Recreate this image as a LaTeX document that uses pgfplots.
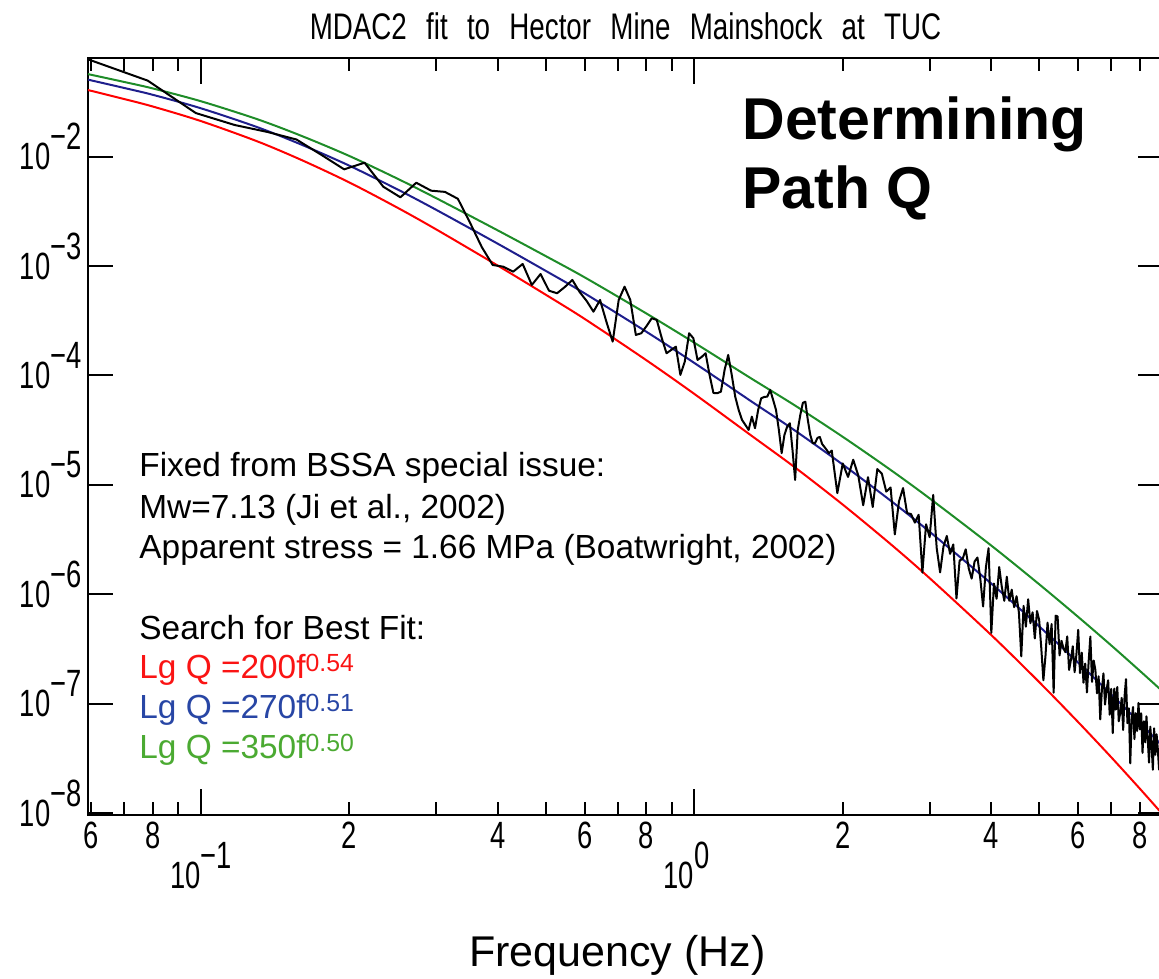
\documentclass[border=0pt]{standalone}
\usepackage{fontspec}
\setmainfont{Liberation Sans}
\newfontfamily\hershey{Liberation Sans}[FakeStretch=0.72]
\newfontfamily\hersheyT{Liberation Sans}[FakeStretch=0.75,WordSpace=2.5]
\usepackage{pgfplots}
\usepackage{pgfplotstable}
\pgfplotsset{compat=1.18}
\definecolor{cred}{RGB}{255,0,0}
\definecolor{cblue}{RGB}{30,30,140}
\definecolor{cgreen}{RGB}{30,140,40}
\definecolor{tred}{RGB}{250,20,20}
\definecolor{tblue}{RGB}{40,70,165}
\definecolor{tgreen}{RGB}{75,170,50}
\newcommand{\sups}[1]{\raisebox{3.3pt}{\fontsize{12.4}{14}\selectfont #1}}

\pgfplotstableread{
f red blue green
0.0591 4.048e-2 5.038e-2 5.660e-2
0.07 3.348e-2 4.227e-2 4.796e-2
0.08 2.861e-2 3.660e-2 4.184e-2
0.1 2.110e-2 2.761e-2 3.202e-2
0.13 1.379e-2 1.859e-2 2.197e-2
0.16 9.297e-3 1.284e-2 1.544e-2
0.2 5.801e-3 8.254e-3 1.012e-2
0.25 3.421e-3 5.025e-3 6.298e-3
0.3 2.159e-3 3.259e-3 4.165e-3
0.4 1.007e-3 1.596e-3 2.112e-3
0.5 5.470e-4 9.033e-4 1.232e-3
0.6 3.281e-4 5.617e-4 7.866e-4
0.8 1.377e-4 2.506e-4 3.682e-4
1.0 6.792e-5 1.303e-4 1.994e-4
1.3 2.861e-5 5.870e-5 9.483e-5
1.6 1.445e-5 3.139e-5 5.318e-5
2.0 6.609e-6 1.534e-5 2.751e-5
2.5 2.880e-6 7.185e-6 1.371e-5
3.0 1.406e-6 3.733e-6 7.532e-6
4.0 4.245e-7 1.254e-6 2.790e-6
5.0 1.582e-7 5.108e-7 1.238e-6
6.0 6.806e-8 2.378e-7 6.220e-7
7.0 3.253e-8 1.219e-7 3.418e-7
8.0 1.678e-8 6.695e-8 2.001e-7
8.9 9.772e-9 4.107e-8 1.297e-7
}\models

\pgfplotstableread{
f A
0.0586 7.834e-2
0.0781 4.934e-2
0.0977 2.496e-2
0.1172 1.940e-2
0.1367 1.674e-2
0.1563 1.430e-2
0.1758 1.032e-2
0.1953 7.638e-3
0.2148 8.778e-3
0.2344 5.299e-3
0.2539 4.240e-3
0.2734 5.763e-3
0.2930 4.873e-3
0.3125 4.751e-3
0.3320 4.109e-3
0.3516 2.470e-3
0.3711 1.491e-3
0.3906 1.021e-3
0.4102 9.854e-4
0.4297 8.870e-4
0.4492 1.043e-3
0.4688 6.707e-4
0.4883 8.451e-4
0.5078 5.949e-4
0.5273 5.633e-4
0.5469 6.430e-4
0.5664 7.449e-4
0.5859 5.789e-4
0.6055 4.790e-4
0.6250 3.824e-4
0.6445 4.893e-4
0.6641 3.080e-4
0.6836 2.036e-4
0.7031 4.893e-4
0.7227 6.471e-4
0.7422 4.893e-4
0.7617 2.344e-4
0.7813 2.429e-4
0.8008 2.832e-4
0.8203 3.330e-4
0.8398 3.213e-4
0.8594 2.200e-4
0.8789 1.595e-4
0.8984 1.710e-4
0.9180 1.832e-4
0.9375 1.011e-4
0.9570 1.337e-4
0.9766 2.429e-4
0.9961 2.186e-4
1.0156 1.386e-4
1.0352 1.475e-4
1.0547 1.595e-4
1.0742 1.011e-4
1.0938 6.921e-5
1.1133 6.876e-5
1.1328 7.113e-5
1.1523 1.122e-4
1.1719 1.539e-4
1.1914 1.011e-4
1.2109 6.403e-5
1.2305 4.841e-5
1.2500 3.924e-5
1.2695 3.531e-5
1.2891 3.180e-5
1.3086 4.204e-5
1.3281 3.295e-5
1.3477 4.841e-5
1.3672 6.191e-5
1.3867 6.363e-5
1.4063 6.403e-5
1.4258 7.372e-5
1.4453 5.974e-5
1.4648 4.841e-5
1.4844 3.180e-5
1.5039 1.948e-5
1.5234 2.861e-5
1.5430 3.407e-5
1.5625 3.660e-5
1.5820 2.088e-5
1.6016 1.111e-5
1.6211 3.180e-5
1.6406 4.358e-5
1.6602 5.610e-5
1.6797 5.763e-5
1.6992 3.924e-5
1.7188 2.861e-5
1.7383 2.403e-5
1.7578 2.410e-5
1.7773 2.687e-5
1.7969 2.744e-5
1.8164 2.368e-5
1.8359 2.223e-5
1.8555 2.088e-5
1.8750 1.948e-5
1.90 2.059e-5
1.95 8.408e-6
2.00 1.570e-5
2.05 1.183e-5
2.10 1.698e-5
2.15 1.222e-5
2.20 6.518e-6
2.25 1.178e-5
2.30 6.284e-6
2.35 1.397e-5
2.40 1.266e-5
2.45 8.695e-6
2.50 9.472e-6
2.55 3.532e-6
2.60 7.071e-6
2.65 9.357e-6
2.70 5.528e-6
2.75 5.422e-6
2.80 4.526e-6
2.85 5.337e-6
2.90 1.581e-6
2.95 4.369e-6
3.00 3.327e-6
3.05 8.096e-6
3.10 2.659e-6
3.15 1.589e-6
3.20 2.738e-6
3.25 3.417e-6
3.30 2.344e-6
3.35 2.859e-6
3.40 9.176e-7
3.45 2.037e-6
3.50 2.115e-6
3.55 2.580e-6
3.60 1.729e-6
3.65 1.394e-6
3.70 1.998e-6
3.75 2.172e-6
3.80 1.390e-6
3.85 7.750e-7
3.90 1.761e-6
3.95 2.644e-6
4.00 4.450e-7
4.05 1.256e-6
4.10 9.109e-7
4.15 1.778e-6
4.20 1.176e-6
4.25 8.729e-7
4.30 1.450e-6
4.35 8.749e-7
4.40 1.103e-6
4.45 7.635e-7
4.50 9.623e-7
4.55 6.820e-7
4.60 2.718e-7
4.65 7.847e-7
4.70 5.073e-7
4.75 9.033e-7
4.80 5.448e-7
4.85 6.867e-7
4.90 3.957e-7
4.95 7.043e-7
5.00 5.866e-7
5.05 3.249e-7
5.10 1.641e-7
5.15 2.745e-7
5.20 5.519e-7
5.25 3.510e-7
5.30 5.354e-7
5.35 1.265e-7
5.40 6.390e-7
5.45 6.294e-7
5.50 2.769e-7
5.55 3.764e-7
5.60 3.229e-7
5.65 2.968e-7
5.70 4.130e-7
5.75 2.039e-7
5.80 2.527e-7
5.85 3.358e-7
5.90 1.948e-7
5.95 2.837e-7
6.00 4.746e-7
6.05 1.913e-7
6.10 2.933e-7
6.15 1.559e-7
6.20 2.334e-7
6.25 1.270e-7
6.30 2.450e-7
6.35 4.119e-7
6.40 1.586e-7
6.45 2.487e-7
6.50 2.047e-7
6.55 1.249e-7
6.60 1.787e-7
6.65 7.205e-8
6.70 1.328e-7
6.75 1.899e-7
6.80 9.863e-8
6.85 1.347e-7
6.90 1.641e-7
6.95 7.952e-8
7.00 1.368e-7
7.05 5.408e-8
7.10 1.380e-7
7.15 8.851e-8
7.20 1.425e-7
7.25 6.932e-8
7.30 8.277e-8
7.35 1.135e-7
7.40 5.779e-8
7.45 1.172e-7
7.50 1.682e-7
7.55 6.650e-8
7.60 9.117e-8
7.65 2.862e-8
7.70 7.142e-8
7.75 9.350e-8
7.80 4.761e-8
7.85 8.216e-8
7.90 5.646e-8
7.95 1.020e-7
8.00 5.830e-8
8.05 8.201e-8
8.10 3.565e-8
8.15 6.922e-8
8.20 4.451e-8
8.25 7.702e-8
8.30 4.732e-8
8.35 2.905e-8
8.40 6.185e-8
8.45 4.164e-8
8.50 2.499e-8
8.55 5.970e-8
8.60 3.421e-8
8.65 5.277e-8
8.70 3.807e-8
8.75 2.505e-8
8.80 4.540e-8
8.85 2.115e-8
8.90 3.262e-8
}\spectrum

\begin{document}
\begin{tikzpicture}
\begin{axis}[
  scale only axis, width=537.5pt, height=378.5pt,
  xmode=log, ymode=log,
  xmin=0.0591, xmax=8.912, ymin=9.649e-9, ymax=0.07943,
  axis line style={line width=1.2pt},
  every tick/.style={black, line width=1pt},
  major tick length=6.5pt, minor tick length=6.5pt,
  xtick={0.06,0.08,0.2,0.4,0.6,0.8,2,4,6,8},
  xticklabels={6,8,2,4,6,8,2,4,6,8},
  minor xtick={0.07,0.09,0.3,0.5,0.7,0.9,3,5,7},
  extra x ticks={0.1,1},
  extra x tick labels={\llap{10}\rlap{\smash{\raisebox{10pt}{−1}}},\llap{10}\rlap{\smash{\raisebox{10pt}{0}}}},
  extra x tick style={major tick length=13pt, xticklabel style={yshift=-19.7pt}},
  ytick=\empty, yminorticks=false,
  extra y ticks={1e-8,1e-7,1e-6,1e-5,1e-4,1e-3,1e-2},
  extra y tick labels={10\smash{\raisebox{10pt}{−8}},10\smash{\raisebox{10pt}{−7}},10\smash{\raisebox{10pt}{−6}},10\smash{\raisebox{10pt}{−5}},10\smash{\raisebox{10pt}{−4}},10\smash{\raisebox{10pt}{−3}},10\smash{\raisebox{10pt}{−2}}},
  extra y tick style={major tick length=12.5pt, yticklabel style={inner sep=0pt, xshift=-3pt}},
  tick label style={font=\hershey\fontsize{19}{21}\selectfont},
  clip=true,
]
\addplot[cred, line width=1pt, smooth] table[x=f, y=red] {\models};
\addplot[cblue, line width=1pt, smooth] table[x=f, y=blue] {\models};
\addplot[cgreen, line width=1pt, smooth] table[x=f, y=green] {\models};
\addplot[black, line width=1pt, line join=round] table[x=f, y=A] {\spectrum};
\coordinate (SW) at (rel axis cs:0,0);
\coordinate (NE) at (rel axis cs:1,1);
\coordinate (S) at (rel axis cs:0.5,0);
\coordinate (N) at (rel axis cs:0.5,1);
\end{axis}
\node[anchor=base, inner sep=0pt] at ([yshift=9pt]N) {\hersheyT\fontsize{18.5}{20}\selectfont MDAC2 fit to Hector Mine Mainshock at TUC};
\node[anchor=base, inner sep=0pt] at ([xshift=-4pt,yshift=-75.8pt]S) {\fontsize{21.5}{24}\selectfont Frequency (Hz)};
\node[anchor=base west, inner sep=0pt] at ([xshift=327pt,yshift=337.5pt]SW) {\fontsize{29.5}{32}\selectfont\bfseries Determining};
\node[anchor=base west, inner sep=0pt] at ([xshift=327pt,yshift=303.4pt]SW) {\fontsize{29.5}{32}\selectfont\bfseries Path Q};
\begin{scope}[every node/.style={anchor=base west, inner sep=0pt, font=\fontsize{16.7}{18}\selectfont}]
\node at ([xshift=25.5pt,yshift=169.15pt]SW) {Fixed from BSSA special issue:};
\node at ([xshift=25.5pt,yshift=148.35pt]SW) {Mw=7.13 (Ji et al., 2002)};
\node at ([xshift=25.5pt,yshift=128.35pt]SW) {Apparent stress = 1.66 MPa (Boatwright, 2002)};
\node at ([xshift=25.5pt,yshift=87.85pt]SW) {Search for Best Fit:};
\node[text=tred] at ([xshift=25.5pt,yshift=68.35pt]SW) {Lg Q =200f\sups{0.54}};
\node[text=tblue] at ([xshift=25.5pt,yshift=48.35pt]SW) {Lg Q =270f\sups{0.51}};
\node[text=tgreen] at ([xshift=25.5pt,yshift=28.35pt]SW) {Lg Q =350f\sups{0.50}};
\end{scope}
\pgfresetboundingbox
\path[use as bounding box] ([xshift=-44pt,yshift=-81.5pt]SW) rectangle ([xshift=-2pt,yshift=29pt]NE);
\end{tikzpicture}
\end{document}
